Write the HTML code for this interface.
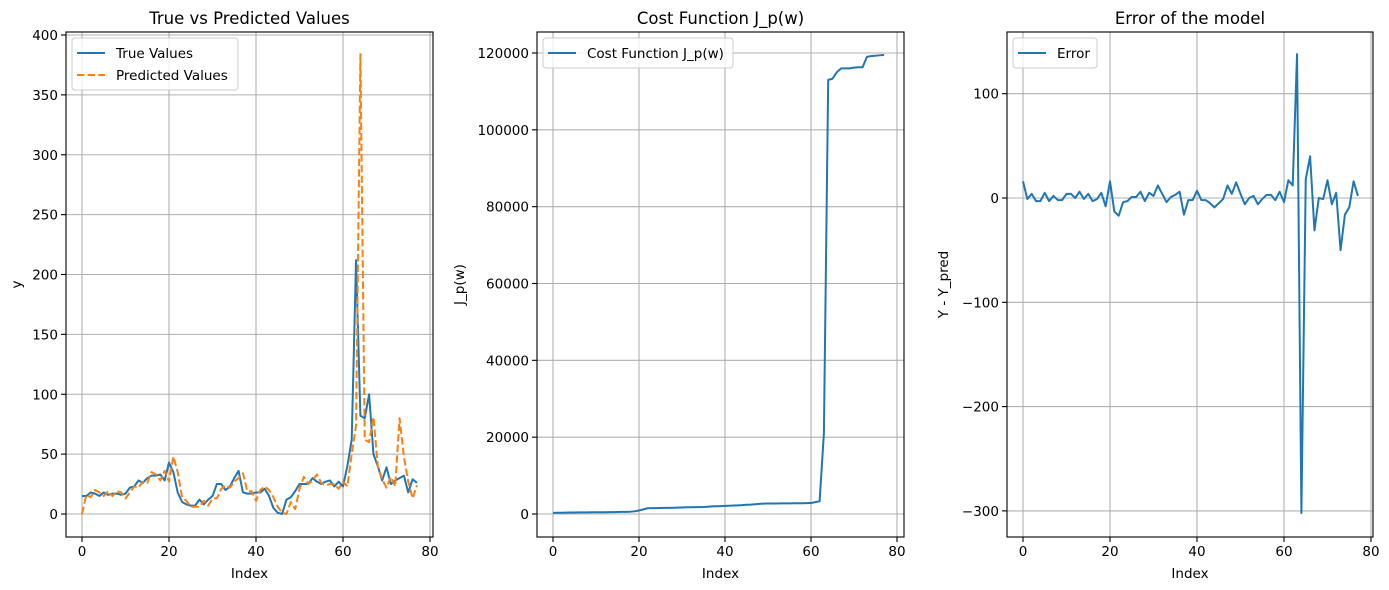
<!DOCTYPE html>
<html><head><meta charset="utf-8"><style>
html,body{margin:0;padding:0;background:#fff;}
svg{display:block;font-family:"DejaVu Sans","Liberation Sans",sans-serif;}
</style></head><body>
<svg id="fig" width="1389" height="590" xmlns="http://www.w3.org/2000/svg"></svg>
<script>
const indexCount = 78;
const trueValues = [15,15,18,17,15,18,16,17,17,16,17,22,23,28,26,30,32,32,33,28,43,35,18,10,8,7,7,12,8,12,15,25,25,20,23,30,36,18,17,17,18,18,21,15,5,1,0,12,14,19,25,25,25,30,27,25,27,28,23,27,23,40,62,212,82,80,100,50,40,28,39,25,28,30,32,18,29,26];
const predValues = [0,16,14,20,18,15,19,15,19,18,13,18,23,22,27,26,35,33,28,36,27,48,35,14,11,6,6,6,11,7,13,13,21,24,22,27,30,34,19,19,11,20,23,20,14,6,1,0,10,4,21,31,25,28,33,26,24,25,25,21,27,23,50,74,384,62,60,81,40,29,22,31,23,80,48,27,13,24];
const costValues = [300,320,340,360,380,400,410,420,430,440,450,460,470,480,500,520,540,560,600,700,900,1200,1500,1520,1540,1560,1580,1600,1620,1650,1700,1750,1760,1780,1800,1820,1900,2000,2020,2050,2100,2150,2200,2250,2300,2400,2450,2550,2650,2700,2720,2740,2750,2760,2770,2780,2790,2800,2810,2820,2850,3100,3300,21000,113000,113300,115000,116000,116000,116000,116200,116300,116300,119000,119200,119300,119400,119500];
const errorValues = [16,-1,4,-3,-3,5,-3,2,-2,-2,4,4,0,6,-1,4,-3,-1,5,-8,16,-13,-17,-4,-3,1,1,6,-3,5,2,12,4,-4,1,3,6,-16,-2,-2,7,-2,-2,-5,-9,-5,-1,12,4,15,4,-6,0,2,-6,-1,3,3,-2,6,-4,17,12,138,-302,18,40,-31,0,-1,17,-6,5,-50,-16,-9,16,2];
const xTicks = [0,20,40,60,80];
const yTicks1 = [0,50,100,150,200,250,300,350,400];
const yTicks2 = [0,20000,40000,60000,80000,100000,120000];
const yTicks3 = [-300,-200,-100,0,100];

const NS="http://www.w3.org/2000/svg";
const svg=document.getElementById('fig');
function mk(tag,attrs,parent){const e=document.createElementNS(NS,tag);for(const k in attrs)e.setAttribute(k,attrs[k]);(parent||svg).appendChild(e);return e;}

function panel(cfg){
  const g=mk('g',{});
  
  
  const L=cfg.L,R=cfg.R,T=32,B=537;
  const sx=v=>cfg.x0+(v-0)*(cfg.x80-cfg.x0)/80;
  const sy=v=>cfg.yA+(v-cfg.vA)*(cfg.yB-cfg.yA)/(cfg.vB-cfg.vA);
  xTicks.forEach(t=>{
    const l=mk('line',{x1:sx(t),x2:sx(t),y1:T,y2:B,stroke:'#b0b0b0','stroke-width':1.1},g);
    
    
    mk('line',{x1:sx(t),x2:sx(t),y1:B,y2:B+5,stroke:'#000','stroke-width':1.1},g);
    const tx=mk('text',{x:sx(t),y:B+19,'text-anchor':'middle','font-size':13.5,fill:'#000'},g);
    tx.textContent=t;
    
    
  });
  cfg.yTicks.forEach(t=>{
    const l=mk('line',{x1:L,x2:R,y1:sy(t),y2:sy(t),stroke:'#b0b0b0','stroke-width':1.1},g);
    
    
    mk('line',{x1:L-5,x2:L,y1:sy(t),y2:sy(t),stroke:'#000','stroke-width':1.1},g);
    const tx=mk('text',{x:L-8,y:sy(t)+5,'text-anchor':'end','font-size':13.5,fill:'#000'},g);
    tx.textContent=t<0?'\u2212'+(-t):t;
    
    
  });
  const clipId='c'+cfg.name;
  const cp=mk('clipPath',{id:clipId},g);mk('rect',{x:L,y:T,width:R-L,height:B-T},cp);
  cfg.series.forEach(s=>{
    const d=s.data.map((v,i)=>(i?'L':'M')+sx(i).toFixed(2)+','+sy(v).toFixed(2)).join('');
    const p=mk('path',{d:d,fill:'none',stroke:s.color,'stroke-width':2,'stroke-linejoin':'round','clip-path':'url(#'+clipId+')','stroke-dasharray':s.dash||'none'},g);
    
    
  });
  const fr=mk('rect',{x:L,y:T,width:R-L,height:B-T,fill:'none',stroke:'#000','stroke-width':1.1},g);
  
  
  const ti=mk('text',{x:(L+R)/2,y:T-8,'text-anchor':'middle','font-size':16.5,fill:'#000'},g);
  ti.textContent=cfg.title;
  
  
  const xl=mk('text',{x:(L+R)/2,y:578,'text-anchor':'middle','font-size':13.5,fill:'#000'},g);
  xl.textContent='Index';
  
  
  const yl=mk('text',{x:0,y:0,'text-anchor':'middle','font-size':13.5,fill:'#000',transform:'translate('+cfg.ylx+','+((T+B)/2)+') rotate(-90)'},g);
  yl.textContent=cfg.ylabel;
  
  
  const lg=mk('g',{},g);
  
  
  mk('rect',{x:L+6,y:T+6,width:cfg.legW,height:8+22*cfg.series.length,rx:3,fill:'#fff','fill-opacity':0.8,stroke:'#ccc','stroke-width':1},lg);
  cfg.series.forEach((s,i)=>{
    const yy=T+6+15+22*i;
    mk('line',{x1:L+11,x2:L+39,y1:yy,y2:yy,stroke:s.color,'stroke-width':2,'stroke-dasharray':s.dash||'none'},lg);
    const t=mk('text',{x:L+50,y:yy+5,'font-size':13.5,fill:'#000'},lg);
    t.textContent=s.label;
    
    
  });
}
panel({name:'true-vs-predicted-panel',L:66,R:433,x0:82,x80:430,vA:0,yA:514,vB:400,yB:35,yTicks:yTicks1,title:'True vs Predicted Values',ylabel:'y',ylx:21,legW:166,
  series:[{id:'true-values-line',data:trueValues,color:'#1f77b4',label:'True Values'},{id:'predicted-values-line',data:predValues,color:'#ff7f0e',dash:'7.4,3.2',label:'Predicted Values'}]});
panel({name:'cost-function-panel',L:537,R:904,x0:553,x80:897,vA:0,yA:514,vB:120000,yB:53,yTicks:yTicks2,title:'Cost Function J_p(w)',ylabel:'J_p(w)',ylx:464,legW:190,
  series:[{id:'cost-function-line',data:costValues,color:'#1f77b4',label:'Cost Function J_p(w)'}]});
panel({name:'error-panel',L:1007,R:1373,x0:1023,x80:1371,vA:0,yA:198,vB:100,yB:93.7,yTicks:yTicks3,title:'Error of the model',ylabel:'Y - Y_pred',ylx:948,legW:84,
  series:[{id:'error-line',data:errorValues,color:'#1f77b4',label:'Error'}]});
</script>
</body></html>
